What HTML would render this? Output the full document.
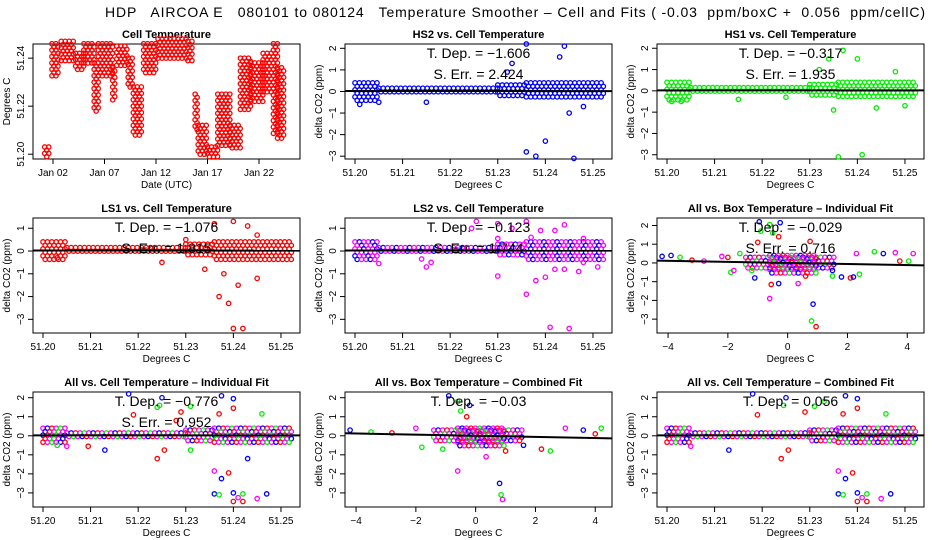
<!DOCTYPE html>
<html><head><meta charset="utf-8">
<style>
html,body{margin:0;padding:0;background:#fff;}
svg{display:block;font-family:"Liberation Sans",sans-serif;}
</style></head>
<body>
<svg id="c" width="936" height="540" viewBox="0 0 936 540">
<text x="105" y="17" font-size="14" style="white-space:pre" textLength="820">HDP   AIRCOA E   080101 to 080124   Temperature Smoother – Cell and Fits ( -0.03  ppm/boxC +  0.056  ppm/cellC)</text>
</svg>
<script>
// ---------- data ----------
const tsDayStart=[1.2,1.9,2.8,4.2,5.0,6.0,6.4,7.8,8.2,9.3,9.8,10.8,12.2,15.1,15.8,16.1,17.0,18.0,19.2,20.2,21.2,22.4,23.4,23.8];
const tsDayEnd  =[1.6,2.6,4.0,5.0,6.0,6.4,7.8,8.0,9.2,9.8,10.6,12.0,15.0,15.6,16.0,17.0,18.0,19.2,20.2,21.2,22.4,23.2,23.8,24.4];
const tsLow     =[51.199,51.232,51.238,51.235,51.238,51.218,51.232,51.222,51.236,51.228,51.208,51.234,51.240,51.238,51.210,51.199,51.199,51.203,51.202,51.218,51.222,51.226,51.208,51.206];
const tsHigh    =[51.203,51.246,51.247,51.242,51.246,51.238,51.246,51.236,51.245,51.240,51.228,51.246,51.248,51.247,51.225,51.212,51.203,51.225,51.212,51.240,51.238,51.242,51.246,51.236];
const dayTicks=[2,7,12,17,22];
const dayTickLabels=["Jan 02","Jan 07","Jan 12","Jan 17","Jan 22"];
const tempTicks=[51.20,51.22,51.24];
const cellTicks=[51.20,51.21,51.22,51.23,51.24,51.25];
const boxTicks=[-4,-2,0,2,4];
const p2x=[51.236,51.244,51.233,51.238,51.246,51.240,51.236,51.215,51.205,51.201,51.243,51.232,51.248,51.245];
const p2y=[2.2,2.1,1.3,-3.0,-3.1,-2.3,-2.8,-0.5,-0.5,-0.6,1.6,0.9,-0.7,-1.0];
const p3x=[51.237,51.240,51.234,51.241,51.236,51.201,51.203,51.215,51.225,51.244,51.250,51.235,51.232,51.248];
const p3y=[1.9,1.5,1.5,-3.0,-3.1,-0.5,-0.5,-0.4,-0.3,-0.8,-0.7,-0.9,1.0,0.9];
const p4x=[51.240,51.242,51.239,51.237,51.240,51.243,51.236,51.245,51.238,51.241,51.225,51.203,51.245,51.234,51.230];
const p4y=[-3.4,-3.4,-2.3,-2.0,1.3,1.1,1.2,-1.2,-1.0,-1.5,-0.5,-0.3,0.7,-0.8,0.5];
const p5x=[51.2255,51.2245,51.230,51.233,51.236,51.237,51.239,51.242,51.244,51.230,51.230,51.236,51.238,51.240,51.242,51.244,51.241,51.245,51.247,51.248,51.251,51.205,51.214,51.215,51.216,51.248];
const p5y=[1.3,1.0,1.2,1.0,1.3,0.6,0.9,0.9,1.15,0.55,-1.1,-1.9,-1.3,-1.15,-0.8,-0.8,-3.35,-3.4,-0.9,-0.5,-0.7,-0.55,-0.35,-0.7,-0.5,0.55];
const p6x=[-0.95,-0.6,-0.25,-0.9,-0.5,-0.3,-1.0,0.75,0.8,0.95,0.85,-0.6,-0.3,-4.2,-3.9,-3.6,-3.2,-2.8,-2.2,-2.0,-1.9,-1.8,-1.6,1.5,1.8,2.1,2.3,2.4,2.9,3.2,3.6,3.75,4.05,4.2,0.35,-0.55,-1.2,-1.1,0.6,1.5,2.2];
const p6y=[2.2,2.05,2.15,1.7,1.6,1.4,1.1,1.15,-3.1,-3.4,-2.2,-1.9,-1.1,0.35,0.4,0.3,0.15,0.1,0.35,0.3,-0.5,-0.4,0.5,-0.4,-0.75,-0.8,0.5,-0.6,0.6,0.5,0.55,0.1,0.1,0.5,-1.1,-1.15,-0.4,-0.8,-0.7,-0.7,-0.75];
const p6c=["b","g","b","g","g","r","r","r","g","r","b","m","b","b","b","g","r","m","m","r","g","m","g","b","b","r","m","g","g","b","m","r","g","m","m","r","g","b","r","g","b"];
const p7x=[51.218,51.225,51.2375,51.240,51.224,51.2245,51.231,51.219,51.240,51.237,51.236,51.236,51.237,51.2375,51.240,51.242,51.240,51.241,51.242,51.245,51.247,51.239,51.224,51.2255,51.213,51.205,51.203,51.2095,51.231,51.243,51.246,51.229,51.228];
const p7y=[2.2,2.0,2.1,1.95,1.5,1.6,1.55,1.1,1.45,1.15,-1.85,-3.05,-3.1,-2.25,-3.0,-3.05,-3.45,-3.25,-3.45,-3.3,-3.05,-1.95,-1.2,-0.75,-0.75,-0.55,-0.5,-0.55,-0.75,-1.2,1.15,1.25,0.8];
const p7c=["b","b","b","b","g","g","g","r","r","r","m","b","g","b","b","g","r","m","r","m","b","r","r","r","b","m","g","r","g","b","g","r","r"];
const p8x=[-0.9,-0.6,-0.2,-0.5,-0.3,0.85,0.9,0.8,-0.6,-4.2,-3.5,-2.8,-2.0,-1.8,1.6,2.2,2.5,3.0,3.6,4.0,4.2,0.35,-1.1,1.0];
const p8y=[2.1,1.8,1.6,1.3,1.0,-3.1,-3.35,-2.5,-1.85,0.3,0.2,0.15,0.4,-0.6,-0.5,-0.7,-0.8,0.4,0.3,0.1,0.4,-1.1,-0.7,-0.8];
const p8c=["b","g","b","g","r","g","m","b","m","b","g","r","m","g","b","r","g","m","b","r","g","m","g","r"];
const p9x=[51.218,51.225,51.2375,51.240,51.233,51.2245,51.231,51.219,51.240,51.237,51.236,51.236,51.237,51.2375,51.240,51.242,51.240,51.241,51.242,51.245,51.247,51.239,51.224,51.2255,51.213,51.205,51.229,51.246];
const p9y=[2.2,2.0,2.1,1.95,1.8,1.6,1.55,1.1,1.45,1.15,-1.85,-3.05,-3.1,-2.25,-3.0,-3.05,-3.45,-3.25,-3.45,-3.3,-3.05,-1.95,-1.2,-0.75,-0.75,-0.55,1.25,1.15];
const p9c=["b","b","b","b","g","g","g","r","r","r","m","b","g","b","b","g","r","m","r","m","b","r","r","r","b","m","r","g"];
const cellBandX0=[51.200,51.205,51.230,51.236];
const cellBandX1=[51.205,51.230,51.236,51.2525];
const cellBandLo=[-0.5,-0.15,-0.3,-0.4];
const cellBandHi=[0.4,0.15,0.3,0.4];
const boxBandX0=[-1.4,-0.6];
const boxBandX1=[1.6,1.0];
const boxBandLo=[-0.3,-0.6];
const boxBandHi=[0.3,0.4];
const fitSlopes=[-1.606,-0.317,-1.076,-0.123,-0.029,-0.776,-0.03,0.056];
const fitSE=["2.424","1.935","1.815","1.744","0.716","0.952",null,null];

// ---------- helpers ----------
const NS="http://www.w3.org/2000/svg";
const svg=document.getElementById('c');
function mk(tag,attrs,parent){const e=document.createElementNS(NS,tag);for(const k in attrs)e.setAttribute(k,attrs[k]);(parent||svg).appendChild(e);return e;}
const COL={r:"#ff0000",g:"#00ee00",b:"#0000ff",m:"#ff00ff"};
function mkPanel(cfg){
  const g=mk('g',{});
  
  
  const X=v=>cfg.x+(v-cfg.xd[0])/(cfg.xd[1]-cfg.xd[0])*cfg.w;
  const Y=v=>cfg.y+cfg.h-(v-cfg.yd[0])/(cfg.yd[1]-cfg.yd[0])*cfg.h;
  const t=mk('text',{x:cfg.x+cfg.w/2,y:cfg.y-6,'font-size':11,'font-weight':'bold','text-anchor':'middle'},g);t.textContent=cfg.title;
  
  const bx=mk('rect',{x:cfg.x,y:cfg.y,width:cfg.w,height:cfg.h,fill:'none',stroke:'#000','stroke-width':1},g);
  
  const xa=mk('g',{},g);
  cfg.xt.forEach((v,i)=>{const px=X(v);mk('line',{x1:px,x2:px,y1:cfg.y+cfg.h,y2:cfg.y+cfg.h+5,stroke:'#000'},xa);
    const l=mk('text',{x:px,y:cfg.y+cfg.h+17,'font-size':10,'text-anchor':'middle'},xa);l.textContent=cfg.xtl?cfg.xtl[i]:(v<0?'−'+Math.abs(v).toFixed(cfg.xdec):v.toFixed(cfg.xdec));
    });
  const xl=mk('text',{x:cfg.x+cfg.w/2,y:cfg.y+cfg.h+29,'font-size':10,'text-anchor':'middle'},g);xl.textContent=cfg.xlab;
  
  const ya=mk('g',{},g);
  cfg.yt.forEach(v=>{const py=Y(v);mk('line',{x1:cfg.x-5,x2:cfg.x,y1:py,y2:py,stroke:'#000'},ya);
    const tx=cfg.x-9;const l=mk('text',{x:tx,y:py,'font-size':10,'text-anchor':'middle',transform:`rotate(-90 ${tx} ${py})`},ya);
    l.textContent=(v<0?'−'+Math.abs(v):(cfg.ydec?v.toFixed(cfg.ydec):v));
    });
  const yx=cfg.x-23,yy=cfg.y+cfg.h/2;
  const yl=mk('text',{x:yx,y:yy,'font-size':10,'text-anchor':'middle',transform:`rotate(-90 ${yx} ${yy})`},g);yl.textContent=cfg.ylab;
  
  const pts=mk('g',{},g);
  return {g,X,Y,pts};
}
function dot(p,x,y,c){const e=mk('circle',{cx:x,cy:y,r:2.2,fill:'none',stroke:c,'stroke-width':1.3},p);
  }
function band(P,x0,x1,lo,hi,cols){
  for(let i=0;i<x0.length;i++){
    const a=P.X(x0[i]),b=P.X(x1[i]),t=P.Y(hi[i]),u=P.Y(lo[i]);let k=0,row=0;
    for(let py=t;py<=u;py+=3.5,row++)for(let px=a+(row%2)*2.2;px<=b;px+=4.4){dot(P.pts,px,py,COL[cols[k%cols.length]]);k++;}
  }
}
function fit(P,cfg,slope,xm,b0){
  const f=v=>b0+slope*(v-xm);
  const l=mk('line',{x1:cfg.x,x2:cfg.x+cfg.w,y1:P.Y(f(cfg.xd[0])),y2:P.Y(f(cfg.xd[1])),stroke:'#000','stroke-width':2},P.g);
  
}
function notes(P,cfg,i){
  const cx=cfg.x+cfg.w/2;
  const a=mk('text',{x:cx,y:cfg.y+14,'font-size':14,'text-anchor':'middle'},P.g);
  a.textContent='T. Dep. =  '+(fitSlopes[i]<0?'−':'')+Math.abs(fitSlopes[i]);
  
  if(fitSE[i]){const b=mk('text',{x:cx,y:cfg.y+35,'font-size':14,'text-anchor':'middle'},P.g);
    b.textContent='S. Err. = '+fitSE[i];}
}

// ---------- panels ----------
const colX=[33,345,657],rowY=[44,218,392],W=267,H=115;
const cellXd=[51.1979,51.254],boxXd=[-4.37,4.56];
{const cfg={name:'cell-temperature-panel',x:colX[0],y:rowY[0],w:W,h:H,xd:[0.06,25.98],yd:[51.198,51.2459],xt:dayTicks,xtl:dayTickLabels,yt:tempTicks,ydec:2,title:'Cell Temperature',xlab:'Date (UTC)',ylab:'Degrees C'};
 const P=mkPanel(cfg);
 for(let i=0;i<tsDayStart.length;i++){
   let row=0;
   for(let py=P.Y(tsHigh[i]);py<=P.Y(tsLow[i]);py+=3.2,row++)
     for(let d=P.X(tsDayStart[i])+(row%2)*2;d<=P.X(tsDayEnd[i]);d+=4){dot(P.pts,d,py,'#ff0000');}
 }}
function cellPanel(name,col,row,title,xs,ys,cs,defc,bandCols,idx,yd){
  const cfg={name,x:colX[col],y:rowY[row],w:W,h:H,xd:cellXd,yd,xt:cellTicks,xdec:2,yt:row==0?[-3,-2,-1,0,1,2]:(row==1&&col<2?[-3,-2,-1,0,1]:[-3,-2,-1,0,1,2]),title,xlab:'Degrees C',ylab:'delta CO2 (ppm)'};
  const P=mkPanel(cfg);
  band(P,cellBandX0,cellBandX1,cellBandLo,cellBandHi,bandCols);
  xs.forEach((x,i)=>dot(P.pts,P.X(x),P.Y(ys[i]),COL[cs?cs[i]:defc]));
  fit(P,cfg,fitSlopes[idx]*0.05,51.226,0.02);
  notes(P,cfg,idx);
}
function boxPanel(name,col,row,title,xs,ys,cs,idx,yd){
  const cfg={name,x:colX[col],y:rowY[row],w:W,h:H,xd:boxXd,yd,xt:boxTicks,xdec:0,yt:[-3,-2,-1,0,1,2],title,xlab:'Degrees C',ylab:'delta CO2 (ppm)'};
  const P=mkPanel(cfg);
  band(P,boxBandX0,boxBandX1,boxBandLo,boxBandHi,['m','b','m','r','m','g']);
  xs.forEach((x,i)=>dot(P.pts,P.X(x),P.Y(ys[i]),COL[cs[i]]));
  fit(P,cfg,fitSlopes[idx],0,0);
  notes(P,cfg,idx);
}
cellPanel('hs2-panel',1,0,'HS2 vs. Cell Temperature',p2x,p2y,null,'b',['b'],0,[-3.13,2.2]);
cellPanel('hs1-panel',2,0,'HS1 vs. Cell Temperature',p3x,p3y,null,'g',['g'],1,[-3.2,2.2]);
cellPanel('ls1-panel',0,1,'LS1 vs. Cell Temperature',p4x,p4y,null,'r',['r'],2,[-3.6,1.45]);
cellPanel('ls2-panel',1,1,'LS2 vs. Cell Temperature',p5x,p5y,null,'m',['m','b','m'],3,[-3.6,1.45]);
boxPanel('all-box-individual-panel',2,1,'All vs. Box Temperature – Individual Fit',p6x,p6y,p6c,4,[-3.74,2.4]);
cellPanel('all-cell-individual-panel',0,2,'All vs. Cell Temperature – Individual Fit',p7x,p7y,p7c,null,['m','b','r','m','g'],5,[-3.74,2.3]);
boxPanel('all-box-combined-panel',1,2,'All vs. Box Temperature – Combined Fit',p8x,p8y,p8c,6,[-3.74,2.3]);
cellPanel('all-cell-combined-panel',2,2,'All vs. Cell Temperature – Combined Fit',p9x,p9y,p9c,null,['m','b','r','m','g'],7,[-3.74,2.3]);
</script>
</body></html>
